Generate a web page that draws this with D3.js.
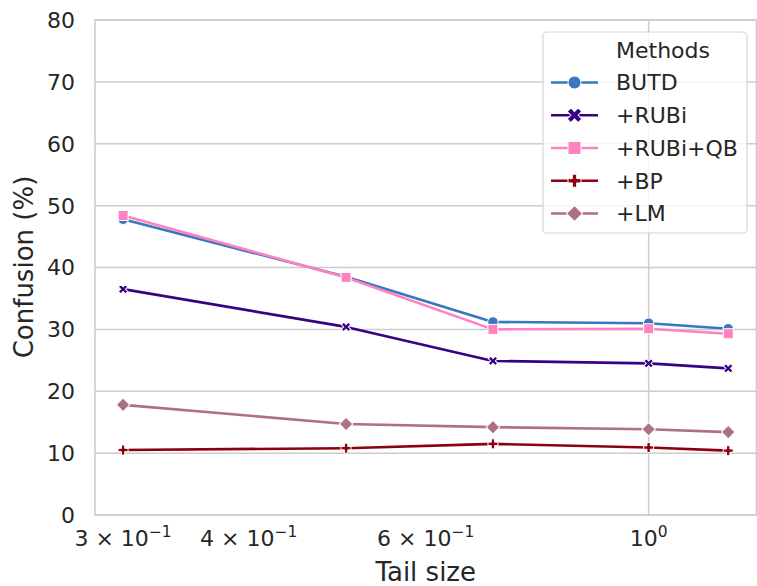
<!DOCTYPE html>
<html>
<head>
<meta charset="utf-8">
<script src="https://cdn.jsdelivr.net/npm/d3@7"></script>
<style>
  html, body { margin: 0; padding: 0; background: #fff; }
  svg { display: block; font-family: "DejaVu Sans", sans-serif; }
</style>
</head>
<body>
<div id="chart"></div>
<script>
// ---- data ----
const tailSizes = [0.3, 0.5, 0.7, 1.0, 1.2];
const methods = ["BUTD", "+RUBi", "+RUBi+QB", "+BP", "+LM"];
const butd    = [47.8, 38.5, 31.2, 31.0, 30.1];
const rubi    = [36.5, 30.4, 24.9, 24.5, 23.7];
const rubiQb  = [48.4, 38.4, 30.0, 30.1, 29.3];
const bp      = [10.5, 10.8, 11.5, 10.9, 10.4];
const lm      = [17.8, 14.7, 14.2, 13.85, 13.4];
const yTicks = [0, 10, 20, 30, 40, 50, 60, 70, 80];
const xTickValues = [0.3, 0.4, 0.6, 1.0];
const xTickMantissa = ["3", "4", "6", null];
const xTickExponent = ["−1", "−1", "−1", "0"];

const seriesValues = [butd, rubi, rubiQb, bp, lm];
const colors = ["#3778bf", "#380282", "#ff81c0", "#8c000f", "#ae7181"];
const markerTypes = ["circle", "x", "square", "plus", "diamond"];

(function () {
const W = 757, H = 586;
const pL = 95, pR = 756.4, pT = 20, pB = 515;

const svg = d3.select("#chart").append("svg")
  .attr("width", W).attr("height", H);

const x = d3.scaleLog().domain([0.2813, 1.28]).range([pL, pR]);
const y = d3.scaleLinear().domain([0, 80]).range([pB, pT]);

const gridColor = "#cccccc";
const textColor = "#262626";

// grid
const g = svg.append("g");
g.selectAll("line.hgrid").data(yTicks).enter().append("line")
  .attr("x1", pL).attr("x2", pR)
  .attr("y1", d => y(d)).attr("y2", d => y(d))
  .attr("stroke", gridColor).attr("stroke-width", 1.5);
g.append("line")
  .attr("x1", x(1)).attr("x2", x(1)).attr("y1", pT).attr("y2", pB)
  .attr("stroke", gridColor).attr("stroke-width", 1.5);
// spines
g.append("rect").attr("x", pL).attr("y", pT)
  .attr("width", pR - pL).attr("height", pB - pT)
  .attr("fill", "none").attr("stroke", gridColor).attr("stroke-width", 1.5);

// y tick labels
svg.append("g").selectAll("text").data(yTicks).enter().append("text")
  .attr("x", 75).attr("y", d => y(d)).attr("dy", "0.36em")
  .attr("text-anchor", "end").attr("font-size", 22).attr("fill", textColor)
  .text(d => d);

// x tick labels
const xt = svg.append("g").selectAll("text").data(xTickValues).enter().append("text")
  .attr("x", d => x(d)).attr("y", 546)
  .attr("text-anchor", "middle").attr("font-size", 22).attr("fill", textColor);
xt.each(function(d, i) {
  const t = d3.select(this);
  if (xTickMantissa[i] !== null) {
    t.append("tspan").text(xTickMantissa[i] + " × 10");
  } else {
    t.append("tspan").text("10");
  }
  t.append("tspan").attr("font-size", 15.5).attr("dy", -9).text(xTickExponent[i]);
});

// axis labels
svg.append("text").attr("x", (pL + pR) / 2).attr("y", 581)
  .attr("text-anchor", "middle").attr("font-size", 26).attr("fill", textColor)
  .text("Tail size");
svg.append("text")
  .attr("transform", `translate(33,267) rotate(-90)`)
  .attr("text-anchor", "middle").attr("font-size", 26).attr("fill", textColor)
  .text("Confusion (%)");

// marker generator
function markerPath(type, s) {
  switch (type) {
    case "circle": return d3.symbol(d3.symbolCircle, Math.PI * (s / 2) * (s / 2))();
    case "square": return d3.symbol(d3.symbolSquare, s * s)();
    case "plus": { const r = s / 6; return d3.symbol(d3.symbolCross, 20 * r * r)(); }
    case "x": { const r = s / 6 / 0.9; return d3.symbol(d3.symbolCross, 20 * r * r)(); }
    case "diamond": { const side = s / Math.SQRT2; return d3.symbol(d3.symbolSquare, side * side)(); }
  }
}
function markerRotate(type) {
  return (type === "x" || type === "diamond") ? 45 : 0;
}
const plotSize = { circle: 10.5, square: 10, plus: 10, x: 9, diamond: 13.5 };
const legendSize = { circle: 13, square: 13, plus: 13, x: 14, diamond: 16 };

const line = d3.line().x(d => x(d.t)).y(d => y(d.v));
const plotG = svg.append("g");
methods.forEach((m, i) => {
  const pts = tailSizes.map((t, j) => ({ t, v: seriesValues[i][j] }));
  const sg = plotG.append("g");
  sg.append("path").datum(pts).attr("d", line)
    .attr("fill", "none").attr("stroke", colors[i]).attr("stroke-width", 2.6)
    .attr("stroke-linejoin", "round").attr("stroke-linecap", "round");
  sg.selectAll("path.mk").data(pts).enter().append("path")
    .attr("class", "mk")
    .attr("d", markerPath(markerTypes[i], plotSize[markerTypes[i]]))
    .attr("transform", d => `translate(${x(d.t)},${y(d.v)}) rotate(${markerRotate(markerTypes[i])})`)
    .attr("fill", colors[i]).attr("stroke", "#fff").attr("stroke-width", 1);
});

// legend
const lg = svg.append("g");
lg.append("rect").attr("x", 543).attr("y", 32).attr("width", 204).attr("height", 201)
  .attr("rx", 4).attr("ry", 4)
  .attr("fill", "#fff").attr("fill-opacity", 0.8)
  .attr("stroke", "#cccccc").attr("stroke-opacity", 0.8).attr("stroke-width", 1.2);
lg.append("text").attr("x", 616).attr("y", 50).attr("dy", "0.36em")
  .attr("font-size", 22).attr("fill", textColor).text("Methods");
methods.forEach((m, i) => {
  const yy = 82.5 + i * 32.75;
  lg.append("line").attr("x1", 551).attr("x2", 598).attr("y1", yy).attr("y2", yy)
    .attr("stroke", colors[i]).attr("stroke-width", 2.6);
  lg.append("path").attr("d", markerPath(markerTypes[i], legendSize[markerTypes[i]]))
    .attr("transform", `translate(574.5,${yy}) rotate(${markerRotate(markerTypes[i])})`)
    .attr("fill", colors[i]).attr("stroke", "#fff").attr("stroke-width", 1);
  lg.append("text").attr("x", 616).attr("y", yy).attr("dy", "0.36em")
    .attr("font-size", 22).attr("fill", textColor).text(m);
});
})();
</script>
</body>
</html>
